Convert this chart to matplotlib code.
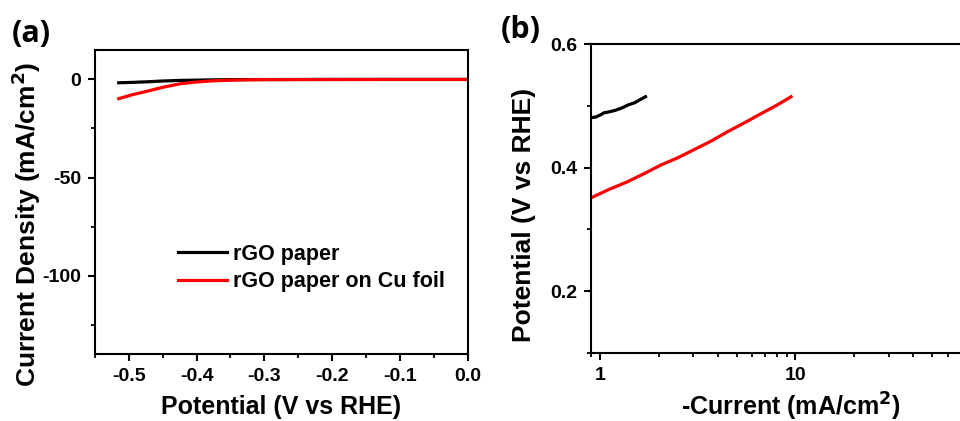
import numpy as np
import matplotlib
matplotlib.use("Agg")
import matplotlib.pyplot as plt
from matplotlib.ticker import MultipleLocator, LogLocator, NullFormatter, FixedLocator

plt.rcParams['font.family'] = ['Liberation Sans', 'DejaVu Sans']
plt.rcParams['font.weight'] = 'bold'
plt.rcParams['mathtext.default'] = 'bf'
plt.rcParams['axes.unicode_minus'] = False

# (a) polarization curves
pot_black = [-0.515, -0.495, -0.473, -0.45, -0.424, -0.40, -0.375, -0.35, -0.3, -0.2, -0.1, 0.0]
cur_black = [-1.7, -1.5, -1.2, -0.8, -0.5, -0.35, -0.2, -0.1, -0.05, 0.0, 0.0, 0.0]
pot_red = [-0.515, -0.495, -0.473, -0.45, -0.424, -0.40, -0.375, -0.35, -0.326, -0.3, -0.2, -0.1, 0.0]
cur_red = [-9.8, -7.8, -6.0, -4.0, -2.2, -1.3, -0.7, -0.4, -0.2, -0.1, -0.05, 0.0, 0.0]

# (b) Tafel plots
cur_tafel_black = [0.9, 0.95, 1.0, 1.05, 1.1, 1.2, 1.3, 1.4, 1.5, 1.6, 1.71]
pot_tafel_black = [0.481, 0.482, 0.485, 0.489, 0.490, 0.493, 0.497, 0.502, 0.505, 0.510, 0.515]
cur_tafel_red = [0.9, 1.1, 1.38, 1.7, 2.04, 2.5, 3.02, 3.7, 4.48, 5.5, 6.62, 8.0, 9.5]
pot_tafel_red = [0.351, 0.364, 0.377, 0.391, 0.404, 0.416, 0.429, 0.443, 0.458, 0.473, 0.487, 0.501, 0.515]

labels = ["rGO paper", "rGO paper on Cu foil"]

fig = plt.figure(figsize=(9.6, 4.21), dpi=100)
ax1 = fig.add_axes([0.099, 0.1591, 0.388, 0.7221])
ax2 = fig.add_axes([0.6156, 0.1622, 0.4167, 0.7326])

ax1.plot(pot_black, cur_black, color='black', lw=2.3, label=labels[0])
ax1.plot(pot_red, cur_red, color='red', lw=2.3, label=labels[1])
ax1.set_xlim(-0.55, 0.0)
ax1.set_ylim(-140, 15)
ax1.xaxis.set_major_locator(FixedLocator([-0.5, -0.4, -0.3, -0.2, -0.1, 0.0]))
ax1.xaxis.set_minor_locator(MultipleLocator(0.05))
ax1.yaxis.set_major_locator(FixedLocator([0, -50, -100]))
ax1.yaxis.set_minor_locator(FixedLocator([-25, -75, -125]))
ax1.set_xlabel("Potential (V vs RHE)", fontsize=18, fontweight='bold', labelpad=7)
ax1.set_ylabel("Current Density (mA/cm$^2$)", fontsize=19, fontweight='bold')
ax1.yaxis.set_label_coords(-0.139, 0.428)
ax1.legend(loc='lower left', bbox_to_anchor=(0.17, 0.14), frameon=False, fontsize=15.5,
           handlelength=2.3, handletextpad=0.25, labelspacing=0.3)

ax2.plot(cur_tafel_black, pot_tafel_black, color='black', lw=2.3)
ax2.plot(cur_tafel_red, pot_tafel_red, color='red', lw=2.3)
ax2.set_xscale('log')
ax2.set_xlim(0.9, 100)
ax2.set_ylim(0.1, 0.6)
ax2.xaxis.set_major_locator(FixedLocator([1, 10]))
ax2.set_xticklabels(["1", "10"])
ax2.xaxis.set_minor_locator(LogLocator(base=10, subs=np.arange(2, 10)))
ax2.xaxis.set_minor_formatter(NullFormatter())
ax2.yaxis.set_major_locator(FixedLocator([0.2, 0.4, 0.6]))
ax2.yaxis.set_minor_locator(FixedLocator([0.1, 0.3, 0.5]))
ax2.set_xlabel("-Current (mA/cm$^2$)", fontsize=18, fontweight='bold', labelpad=5)
ax2.set_ylabel("Potential (V vs RHE)", fontsize=19, fontweight='bold')
ax2.yaxis.set_label_coords(-0.137, 0.446)

for ax in (ax1, ax2):
    for s in ax.spines.values():
        s.set_linewidth(1.5)
    ax.tick_params(which='major', direction='out', length=5, width=1.5, labelsize=14, pad=5)
    ax.tick_params(which='minor', direction='out', length=3, width=1.3)
    for lab in ax.get_xticklabels() + ax.get_yticklabels():
        lab.set_fontweight('bold')

fig.text(0.012, 0.955, "(a)", fontsize=22, fontweight='bold', family=['Open Sans', 'DejaVu Sans'], va='top')
fig.text(0.522, 0.965, "(b)", fontsize=22, fontweight='bold', family=['Open Sans', 'DejaVu Sans'], va='top')

fig.savefig("out.png", dpi=100)
